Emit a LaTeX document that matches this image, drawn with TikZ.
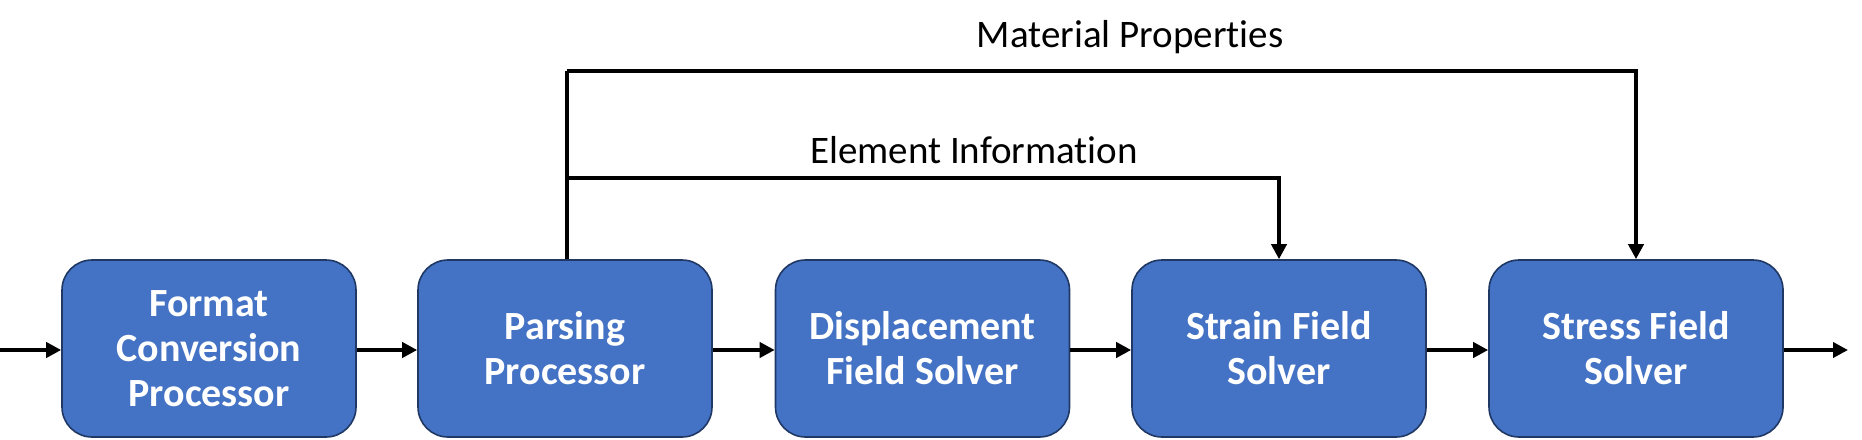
\documentclass[tikz,border=0pt]{standalone}
\usepackage{fontspec}
\setmainfont[Ligatures=NoCommon]{Carlito}
\usetikzlibrary{arrows.meta}
\definecolor{boxfill}{HTML}{4472C4}
\definecolor{boxline}{HTML}{1F3864}
\begin{document}
\begin{tikzpicture}[x=1pt,y=-1pt,
  block/.style={draw=boxline,line width=1.6pt,fill=boxfill,rounded corners=30pt,
    minimum width=294pt,minimum height=177pt,inner sep=0pt,align=center,
    text=white,font=\fontsize{40}{45}\selectfont\bfseries},
  flow/.style={line width=4pt,-{Triangle[length=15pt,width=15pt]}},
  wire/.style={line width=4pt},
  lbl/.style={font=\fontsize{39}{44}\selectfont,anchor=base,inner sep=0pt}]
\useasboundingbox (0,0) rectangle (1862,439);
\node[block] (b1) at (209,348.5) {Format\\Conversion\\Processor};
\node[block] (b2) at (565,348.5) {Parsing\\Processor};
\node[block] (b3) at (922.5,348.5) {Displacement\\Field Solver};
\node[block] (b4) at (1279,348.5) {Strain Field\\Solver};
\node[block] (b5) at (1636,348.5) {Stress Field\\Solver};
\coordinate (in) at (0,350);
\coordinate (out) at (1848,350);
\draw[flow] (in) -- (b1.west |- in);
\draw[flow] (b1.east |- in) -- (b2.west |- in);
\draw[flow] (b2.east |- in) -- (b3.west |- in);
\draw[flow] (b3.east |- in) -- (b4.west |- in);
\draw[flow] (b4.east |- in) -- (b5.west |- in);
\draw[flow] (b5.east |- in) -- (out);
\coordinate (top) at (567,71);
\coordinate (mid) at (567,178);
\draw[wire] (b2.north -| top) -- (top);
\draw[flow] (top) -- (b5.north |- top) -- (b5.north);
\draw[flow] (mid) -- (b4.north |- mid) -- (b4.north);
\node[lbl] (mp) at (1130,47) {Material Properties};
\node[lbl] (ei) at (974,163) {Element Information};
\end{tikzpicture}
\end{document}
